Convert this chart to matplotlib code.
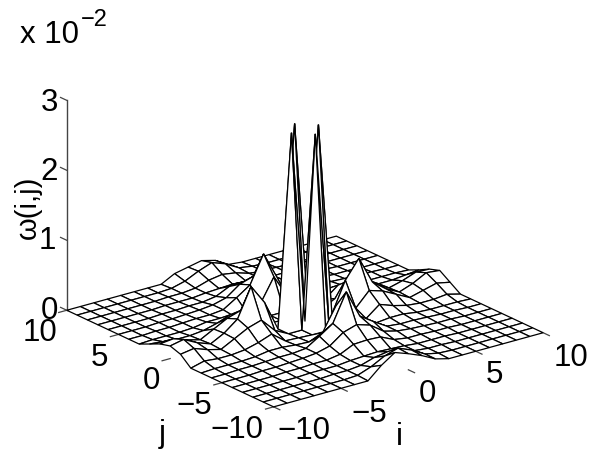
import numpy as np
import matplotlib
matplotlib.use('Agg')
import matplotlib.pyplot as plt

W = 599
H = 456

i_vals = np.arange(-10, 11)
j_vals = np.arange(-10, 11)
i_ticks = [-10, -5, 0, 5, 10]
j_ticks = [-10, -5, 0, 5, 10]
z_ticks = [0, 1, 2, 3]

# omega(i,j) in units of 1e-2, rows are j=-10..10, columns i=-10..10
omega = [
    [0, 0, 0, 0, 0, 0, 0, 0, .17, .30, .23, .15, .05, 0, 0, 0, 0, 0, 0, 0, 0],
    [0, 0, 0, 0, 0, 0, 0, .01, .08, .18, .24, .16, .05, .01, 0, 0, 0, 0, 0, 0, 0],
    [0, 0, 0, 0, 0, 0, .01, .01, .03, .09, .12, .09, .03, .01, .01, 0, 0, 0, 0, 0, 0],
    [0, 0, 0, 0, 0, .01, .01, .01, .03, .04, .05, .04, .03, .01, .01, .01, 0, 0, 0, 0, 0],
    [0, 0, 0, 0, .01, .01, .02, .02, .05, .14, .15, .14, .05, .02, .02, .01, .01, 0, 0, 0, 0],
    [0, 0, 0, .01, .01, .02, .03, .05, .10, .24, .30, .24, .10, .05, .03, .02, .01, .01, 0, 0, 0],
    [0, 0, .01, .01, .02, .03, .03, .05, .17, .30, .70, .30, .17, .05, .03, .03, .02, .01, .01, 0, 0],
    [0, .01, .01, .01, .02, .05, .05, .03, .02, .10, .43, .10, .02, .03, .05, .05, .02, .01, .01, .01, 0],
    [0, .05, .03, .03, .05, .10, .17, .02, .01, 0, 0, 0, .01, .02, .17, .10, .05, .03, .03, .05, 0],
    [.13, .16, .09, .04, .14, .24, .30, .10, 0, 0, 2.75, 0, 0, .10, .30, .24, .14, .04, .09, .14, .10],
    [.18, .22, .12, .05, .15, .30, .71, .43, 0, 2.75, 0, 2.76, 0, .43, .69, .30, .15, .05, .12, .22, .20],
    [.14, .16, .09, .04, .14, .24, .30, .10, 0, 0, 2.76, 0, 0, .10, .30, .24, .14, .04, .09, .16, .15],
    [.07, .05, .03, .03, .05, .10, .17, .02, .01, 0, 0, 0, .01, .02, .17, .10, .05, .03, .03, .05, .07],
    [0, .01, .01, .01, .02, .05, .05, .03, .02, .10, .43, .10, .02, .03, .05, .05, .02, .01, .01, .01, 0],
    [0, 0, .01, .01, .02, .03, .03, .05, .17, .30, .69, .30, .17, .05, .03, .03, .02, .01, .01, 0, 0],
    [0, 0, 0, .01, .01, .02, .03, .05, .10, .24, .30, .24, .10, .05, .03, .02, .01, .01, 0, 0, 0],
    [0, 0, 0, 0, .01, .01, .02, .02, .05, .14, .15, .14, .05, .02, .02, .01, .01, 0, 0, 0, 0],
    [0, 0, 0, 0, 0, .01, .01, .01, .03, .04, .05, .04, .03, .01, .01, .01, 0, 0, 0, 0, 0],
    [0, 0, 0, 0, 0, 0, .01, .01, .03, .09, .12, .09, .03, .01, .01, 0, 0, 0, 0, 0, 0],
    [0, 0, 0, 0, 0, 0, 0, .01, .06, .15, .22, .15, .04, .01, 0, 0, 0, 0, 0, 0, 0],
    [0, 0, 0, 0, 0, 0, 0, 0, .10, .14, .18, .13, .02, 0, 0, 0, 0, 0, 0, 0, 0],
]
omega = np.array(omega)

plt.rcParams['font.family'] = ['Liberation Sans', 'DejaVu Sans']

fig = plt.figure(figsize=(W / 100, H / 100), dpi=100)
side = 515
ax = fig.add_axes([40.5 / W, -26 / H, side / W, side / H], projection='3d', proj_type='ortho')
ax.view_init(elev=21, azim=-127.5)
ax.set_box_aspect((340, 340, 225))
ax.set_xlim(-10, 10)
ax.set_ylim(-10, 10)
ax.set_zlim(0, 3)
ax.set_axis_off()
ax.patch.set_alpha(0)

I, J = np.meshgrid(i_vals, j_vals)
surf = ax.plot_surface(I, J, omega, rstride=1, cstride=1, color='white', edgecolor='black',
                       linewidth=0.9, shade=False, antialiased=True)
surf.set_joinstyle('bevel')

axis_c = '#444444'
ax.plot([-10, -10], [10, 10], [0, 3], color=axis_c, lw=1.0)
for z in z_ticks:
    ax.plot([-10, -10], [10, 10.6], [z, z], color=axis_c, lw=0.9)
for t in i_ticks:
    ax.plot([t, t], [-10, -10.6], [0, 0], color=axis_c, lw=0.9)
for t in j_ticks:
    ax.plot([-10, -10.6], [t, t], [0, 0], color=axis_c, lw=0.9)


def label(x, y, s, **kw):
    # positions are in picture pixels, y down
    fig.text(x / W, 1 - y / H, s, ha='center', va='center', **kw)


z_pos = [(49, 311), (47, 241), (49, 172), (49, 103)]
for t, p in zip(z_ticks, z_pos):
    label(p[0], p[1], str(t), fontsize=22.5)

j_pos = [(237, 430), (194, 406), (151, 381), (99, 358), (40, 333)]
for t, p in zip(j_ticks, j_pos):
    label(p[0], p[1], str(t).replace('-', '\u2212'), fontsize=22.5)

i_pos = [(304, 431), (369, 414), (427, 394), (494, 375), (571, 358)]
for t, p in zip(i_ticks, i_pos):
    label(p[0], p[1], str(t).replace('-', '\u2212'), fontsize=22.5)

label(162, 434, 'j', fontsize=22.5)
label(399, 437, 'i', fontsize=22.5)
label(28, 207, '\u03c9(i,j)', fontsize=21, rotation=90)
label(49, 35, 'x 10', fontsize=22.5)
label(94, 20, '\u22122', fontsize=17)

fig.savefig('out.png', dpi=100)
